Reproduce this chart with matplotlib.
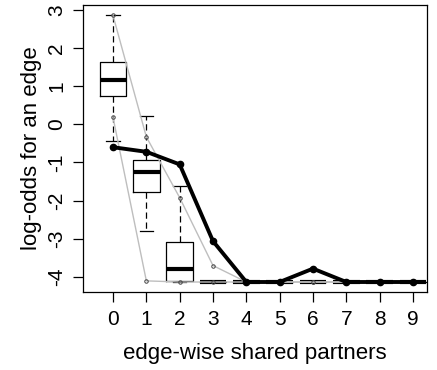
import matplotlib
matplotlib.use("Agg")
import matplotlib.pyplot as plt

plt.rcParams['font.family'] = ['Liberation Sans', 'DejaVu Sans']

# edge-wise shared partners 0..9
esp = [0, 1, 2, 3, 4, 5, 6, 7, 8, 9]

# simulated boxplot summaries (log-odds)
q1 = [0.74, -1.77, -4.10, -4.13, -4.13, -4.13, -4.13, -4.13, -4.13, -4.13]
med = [1.15, -1.26, -3.78, -4.13, -4.13, -4.13, -4.13, -4.13, -4.13, -4.13]
q3 = [1.63, -0.94, -3.08, -4.13, -4.13, -4.13, -4.13, -4.13, -4.13, -4.13]
whis_lo = [-0.44, -2.79, -4.13, -4.13, -4.13, -4.13, -4.13, -4.13, -4.13, -4.13]
whis_hi = [2.85, 0.21, -1.61, -4.13, -4.13, -4.13, -4.13, -4.13, -4.13, -4.13]

# gray bounds
upper = [2.85, -0.33, -1.92, -3.70, -4.13, -4.13, -4.13, -4.13, -4.13, -4.13]
lower = [0.18, -4.10, -4.13, -4.13, -4.13, -4.13, -4.13, -4.13, -4.13, -4.13]

# observed
observed = [-0.60, -0.72, -1.05, -3.06, -4.13, -4.13, -3.78, -4.13, -4.13, -4.13]

fig = plt.figure(figsize=(4.37, 3.70), dpi=100)
ax = fig.add_axes([0.190, 0.211, 0.787, 0.775])

stats = []
for i in range(len(esp)):
    stats.append({"med": med[i], "q1": q1[i], "q3": q3[i],
                  "whislo": whis_lo[i], "whishi": whis_hi[i], "fliers": []})

ax.bxp(stats, positions=esp, widths=0.8, capwidths=0.4, showfliers=False,
       boxprops=dict(color="black", lw=0.9),
       medianprops=dict(color="black", lw=3.0, solid_capstyle="butt"),
       whiskerprops=dict(color="black", lw=0.9, ls=(0, (5, 3))),
       capprops=dict(color="black", lw=0.9), manage_ticks=False)

ax.plot(esp, upper, color="#bebebe", lw=1.0, marker="o", ms=2.5,
        mfc="none", mec="#444444", mew=0.7, zorder=3)
ax.plot(esp, lower, color="#bebebe", lw=1.0, marker="o", ms=2.5,
        mfc="none", mec="#444444", mew=0.7, zorder=3)
ax.plot(esp, observed, color="black", lw=2.8, marker="o", ms=4.5, zorder=4)

ax.set_xlim(-0.9, 9.42)
ax.set_ylim(-4.39, 3.12)
ax.set_xticks(esp)
ax.set_xticklabels([str(v) for v in esp])
ax.set_yticks([-4, -3, -2, -1, 0, 1, 2, 3])
ax.set_yticklabels(["-4", "-3", "-2", "-1", "0", "1", "2", "3"], rotation=90, va="center")
ax.tick_params(direction="out", length=7, width=0.9, labelsize=15)
ax.tick_params(axis="x", pad=6)
ax.tick_params(axis="y", pad=5)
for s in ax.spines.values():
    s.set_linewidth(0.9)

ax.set_xlabel("edge-wise shared partners", fontsize=16, labelpad=10)
ax.set_ylabel("log-odds for an edge", fontsize=16, labelpad=4)

fig.savefig("out.png", dpi=100)
